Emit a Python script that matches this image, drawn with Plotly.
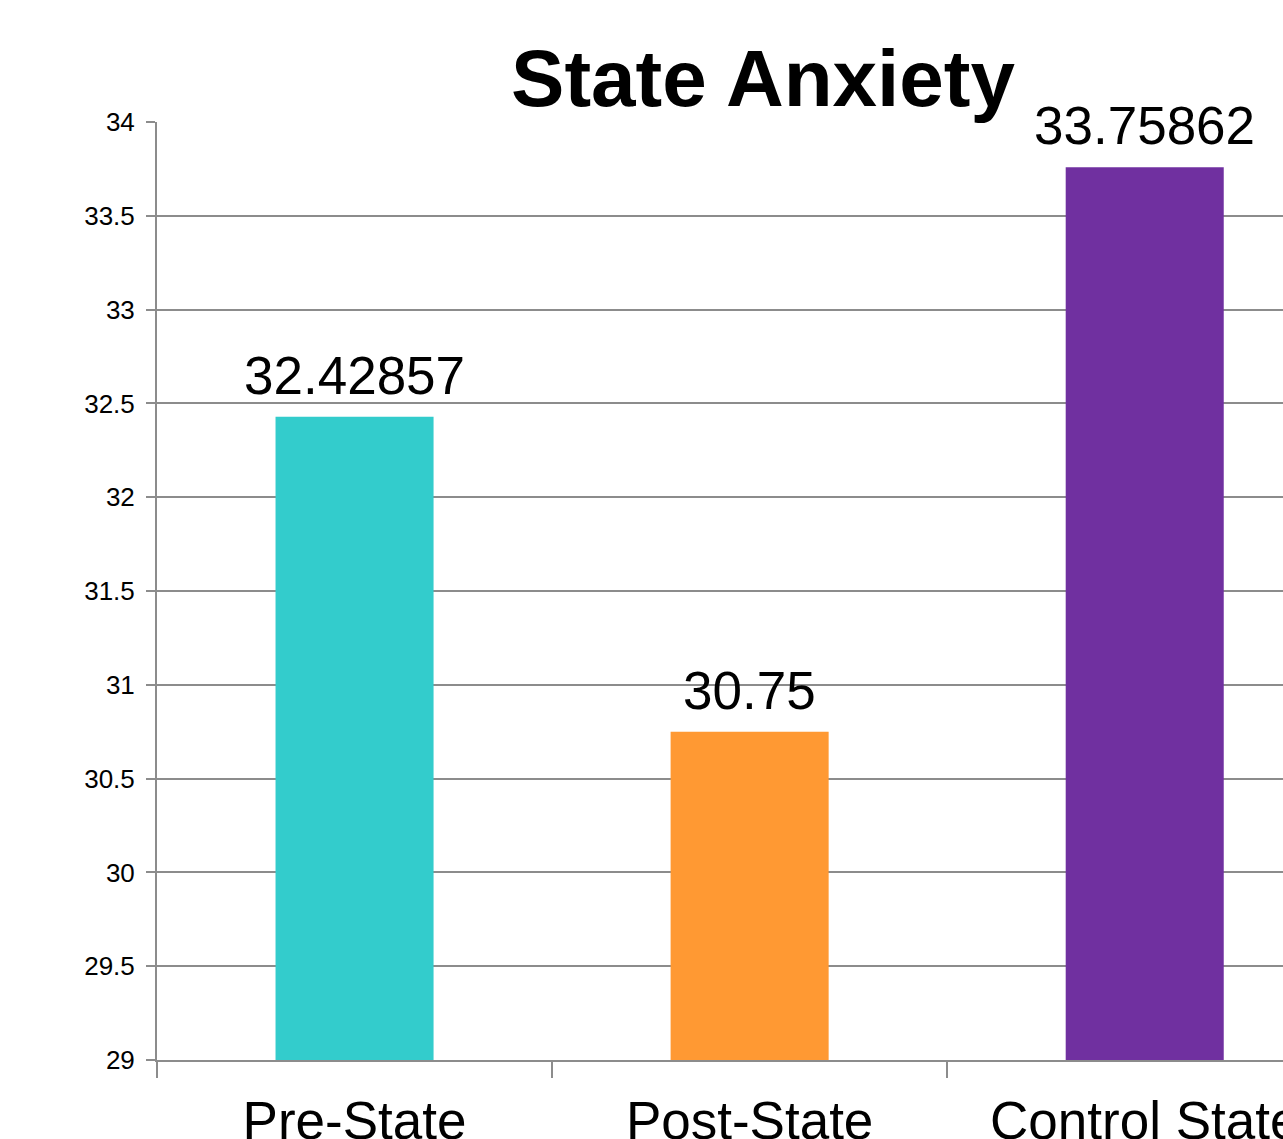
import plotly.graph_objects as go

# Mean state anxiety scores by group
categories = ["Pre-State", "Post-State", "Control State"]
values = [32.42857, 30.75, 33.75862]
colors = ["#33CCCC", "#FF9933", "#7030A0"]

y_ticks = [29, 29.5, 30, 30.5, 31, 31.5, 32, 32.5, 33, 33.5, 34]

FONT = "Arial, Liberation Sans, sans-serif"
GRID = "#8C8C8C"

fig = go.Figure(
    go.Bar(
        x=categories,
        y=values,
        marker=dict(color=colors, line=dict(width=0)),
        width=0.4,
        hoverinfo="x+y",
    )
)

# Value labels above each bar
for cat, val in zip(categories, values):
    fig.add_annotation(
        x=cat, y=val, text=str(val), showarrow=False,
        yanchor="bottom", yshift=10,
        font=dict(family=FONT, size=53, color="#000000"),
    )

fig.update_layout(
    width=1283,
    height=1139,
    margin=dict(l=157, r=0, t=122, b=79, autoexpand=False),
    paper_bgcolor="white",
    plot_bgcolor="white",
    showlegend=False,
    bargap=0.6,
    title=dict(
        text="<b>State Anxiety</b>",
        font=dict(family=FONT, size=80, color="#000000"),
        xref="container", x=763 / 1283, xanchor="center",
        yref="container", y=1 - 78 / 1139, yanchor="middle",
    ),
    xaxis=dict(
        type="category",
        range=[-0.5, 2.35],
        tickson="boundaries",
        ticks="outside",
        ticklen=16,
        tickwidth=2,
        tickcolor=GRID,
        showline=True,
        linecolor=GRID,
        linewidth=2,
        showgrid=False,
        automargin=False,
        ticklabelstandoff=13,
        tickfont=dict(family=FONT, size=53, color="#000000"),
        fixedrange=True,
    ),
    yaxis=dict(
        range=[29, 34],
        tickvals=y_ticks,
        ticktext=[f"{t:g}" for t in y_ticks],
        ticks="outside",
        ticklen=9,
        tickwidth=2,
        tickcolor=GRID,
        showline=True,
        linecolor=GRID,
        linewidth=2,
        showgrid=True,
        gridcolor=GRID,
        gridwidth=2,
        zeroline=False,
        automargin=False,
        tickfont=dict(family=FONT, size=26, color="#000000"),
        ticklabelstandoff=6,
        fixedrange=True,
    ),
)

fig.write_html("out.html")
